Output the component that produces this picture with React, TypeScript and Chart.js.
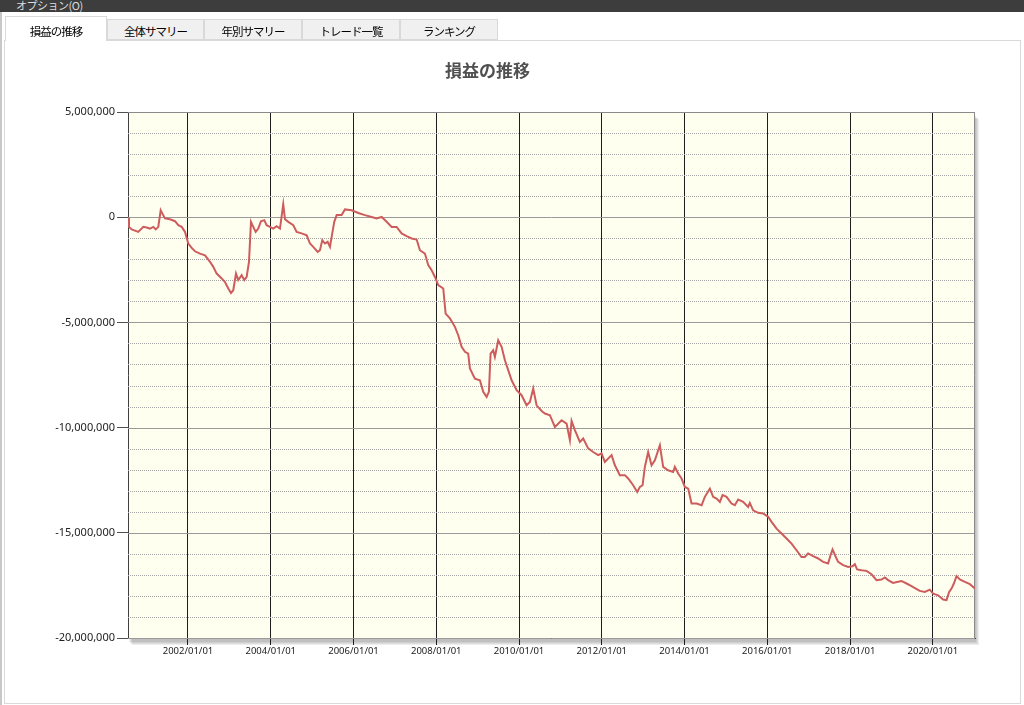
import React, { useEffect, useRef } from 'react';
import { Chart, registerables } from 'chart.js';

Chart.register(...registerables);

// ---- data ----
const chartTitle = '損益の推移';
const menuLabel = 'オプション(O)';
const tabLabels = ['損益の推移', '全体サマリー', '年別サマリー', 'トレード一覧', 'ランキング'];

// decimal years of each sample
const years = [
  2000.550, 2000.574, 2000.640, 2000.799, 2000.920, 2001.002, 2001.082, 2001.162, 2001.220, 2001.282,
  2001.340, 2001.379, 2001.444, 2001.565, 2001.686, 2001.766, 2001.848, 2001.928, 2002.007, 2002.089,
  2002.169, 2002.290, 2002.411, 2002.532, 2002.611, 2002.693, 2002.814, 2002.894, 2002.974, 2003.039,
  2003.094, 2003.160, 2003.215, 2003.297, 2003.360, 2003.418, 2003.474, 2003.522, 2003.578, 2003.636,
  2003.698, 2003.764, 2003.843, 2003.901, 2003.981, 2004.061, 2004.143, 2004.223, 2004.302, 2004.344,
  2004.424, 2004.544, 2004.626, 2004.747, 2004.868, 2004.948, 2005.027, 2005.134, 2005.189, 2005.245,
  2005.310, 2005.375, 2005.431, 2005.486, 2005.535, 2005.593, 2005.713, 2005.793, 2005.955, 2006.115,
  2006.276, 2006.438, 2006.559, 2006.680, 2006.801, 2006.922, 2007.042, 2007.163, 2007.284, 2007.405,
  2007.526, 2007.605, 2007.726, 2007.806, 2007.888, 2007.968, 2008.048, 2008.169, 2008.226, 2008.330,
  2008.451, 2008.531, 2008.613, 2008.693, 2008.772, 2008.813, 2008.934, 2009.055, 2009.135, 2009.217,
  2009.272, 2009.313, 2009.376, 2009.417, 2009.497, 2009.579, 2009.659, 2009.739, 2009.821, 2009.942,
  2010.062, 2010.183, 2010.263, 2010.343, 2010.425, 2010.546, 2010.626, 2010.746, 2010.867, 2011.029,
  2011.150, 2011.229, 2011.270, 2011.350, 2011.471, 2011.551, 2011.672, 2011.792, 2011.913, 2011.995,
  2012.075, 2012.237, 2012.317, 2012.437, 2012.558, 2012.638, 2012.759, 2012.856, 2012.921, 2012.986,
  2013.041, 2013.121, 2013.203, 2013.283, 2013.404, 2013.484, 2013.604, 2013.725, 2013.766, 2013.846,
  2013.928, 2014.008, 2014.088, 2014.170, 2014.291, 2014.412, 2014.491, 2014.612, 2014.692, 2014.774,
  2014.854, 2014.919, 2015.016, 2015.136, 2015.216, 2015.296, 2015.416, 2015.537, 2015.578, 2015.658,
  2015.779, 2015.900, 2016.021, 2016.103, 2016.224, 2016.344, 2016.465, 2016.586, 2016.707, 2016.827,
  2016.907, 2016.987, 2017.108, 2017.229, 2017.350, 2017.470, 2017.528, 2017.577, 2017.656, 2017.712,
  2017.833, 2017.954, 2018.060, 2018.116, 2018.171, 2018.277, 2018.398, 2018.519, 2018.640, 2018.761,
  2018.841, 2018.920, 2019.041, 2019.162, 2019.244, 2019.365, 2019.486, 2019.590, 2019.686, 2019.807,
  2019.928, 2020.008, 2020.129, 2020.250, 2020.332, 2020.395, 2020.453, 2020.509, 2020.574, 2020.654,
  2020.775, 2020.896, 2021.017,
];

// cumulative profit (yen)
const profit = [
  -30000, -460000, -580000, -700000, -460000, -490000, -540000, -460000, -580000, -460000,
  330000, 180000, -60000, -100000, -190000, -380000, -460000, -700000, -1250000, -1460000,
  -1620000, -1730000, -1810000, -2120000, -2360000, -2680000, -2910000, -3080000, -3390000, -3600000,
  -3470000, -2680000, -2990000, -2760000, -2990000, -2840000, -2120000, -220000, -460000, -700000,
  -540000, -190000, -140000, -380000, -460000, -540000, -430000, -540000, 620000, -100000,
  -220000, -380000, -700000, -770000, -860000, -1250000, -1410000, -1650000, -1570000, -1090000,
  -1250000, -1170000, -1410000, -770000, -220000, 100000, 100000, 370000, 330000, 200000,
  100000, 10000, -60000, 10000, -220000, -460000, -460000, -770000, -900000, -1010000,
  -1060000, -1570000, -1730000, -2280000, -2520000, -2840000, -3230000, -3390000, -4580000, -4810000,
  -5210000, -5610000, -6160000, -6400000, -6480000, -7190000, -7670000, -7750000, -8300000, -8540000,
  -8300000, -6480000, -6320000, -6640000, -5850000, -6160000, -6800000, -7270000, -7750000, -8220000,
  -8460000, -8940000, -8780000, -8140000, -8940000, -9210000, -9330000, -9410000, -9970000, -9650000,
  -9810000, -10600000, -9680000, -10120000, -10680000, -10520000, -10990000, -11160000, -11310000, -11230000,
  -11630000, -11310000, -11790000, -12260000, -12260000, -12420000, -12740000, -13060000, -12820000, -12740000,
  -11870000, -11160000, -11790000, -11550000, -10840000, -11870000, -12030000, -12110000, -11870000, -12180000,
  -12420000, -12820000, -12900000, -13610000, -13610000, -13690000, -13290000, -12900000, -13290000, -13370000,
  -13530000, -13210000, -13290000, -13610000, -13690000, -13420000, -13530000, -13770000, -13580000, -13930000,
  -14050000, -14080000, -14240000, -14480000, -14800000, -15030000, -15270000, -15510000, -15830000, -16150000,
  -16150000, -15980000, -16110000, -16220000, -16380000, -16460000, -16070000, -15790000, -16150000, -16380000,
  -16540000, -16620000, -16590000, -16490000, -16740000, -16780000, -16810000, -16970000, -17250000, -17220000,
  -17120000, -17250000, -17380000, -17330000, -17290000, -17410000, -17540000, -17650000, -17760000, -17810000,
  -17700000, -17890000, -17970000, -18170000, -18200000, -17810000, -17650000, -17410000, -17060000, -17220000,
  -17330000, -17440000, -17650000,
];

const xTickYears = [2002, 2004, 2006, 2008, 2010, 2012, 2014, 2016, 2018, 2020];
const xMin = 2000.55;
const xMax = 2021.02;
const yMin = -20000000;
const yMax = 5000000;
const yMinorStep = 1000000;
const yMajorStep = 5000000;

const isMajor = (v: number) => Math.abs(Math.round(v)) % yMajorStep === 0;

const plotPlugin = {
  id: 'plotDecor',
  beforeDraw(chart: any) {
    const { ctx, chartArea: a } = chart;
    const w = a.right - a.left;
    const h = a.bottom - a.top;
    ctx.save();
    for (let i = 1; i <= 4; i++) {
      ctx.fillStyle = 'rgba(0,0,0,0.07)';
      ctx.fillRect(a.left + i, a.top + 3 + i, w, h);
    }
    ctx.fillStyle = '#fffff0';
    ctx.fillRect(a.left, a.top, w, h);
    ctx.restore();
  },
  beforeDatasetsDraw(chart: any) {
    const { ctx, chartArea: a } = chart;
    const ys = chart.scales.y;
    ctx.save();
    ctx.lineWidth = 1;
    for (let v = yMin; v <= yMax; v += yMinorStep) {
      const py = Math.round(ys.getPixelForValue(v)) + 0.5;
      ctx.beginPath();
      if (isMajor(v)) {
        ctx.setLineDash([]);
        ctx.strokeStyle = '#9a9a9a';
      } else {
        ctx.setLineDash([1, 1]);
        ctx.strokeStyle = '#a4a4a4';
      }
      ctx.moveTo(a.left, py);
      ctx.lineTo(a.right, py);
      ctx.stroke();
    }
    ctx.setLineDash([]);
    ctx.strokeStyle = '#8a8a8a';
    ctx.beginPath();
    ctx.moveTo(a.left, Math.round(a.top) + 0.5);
    ctx.lineTo(Math.round(a.right) - 0.5, Math.round(a.top) + 0.5);
    ctx.lineTo(Math.round(a.right) - 0.5, a.bottom);
    ctx.stroke();
    ctx.restore();
  },
};

function ProfitChart() {
  const ref = useRef<HTMLCanvasElement | null>(null);
  useEffect(() => {
    if (!ref.current) return;
    const tickFont = { family: "'Noto Sans', 'Noto Sans CJK JP', sans-serif", size: 11 };
    const chart = new Chart(ref.current, {
      type: 'line',
      data: {
        datasets: [
          {
            label: chartTitle,
            data: years.map((x, i) => ({ x, y: profit[i] })),
            borderColor: '#cd5c5c',
            borderWidth: 2,
            pointRadius: 0,
            tension: 0,
            fill: false,
          },
        ],
      },
      options: {
        animation: false,
        responsive: false,
        events: [],
        layout: { padding: { left: 0, right: 49, top: 0, bottom: 0 } },
        plugins: {
          legend: { display: false },
          tooltip: { enabled: false },
          title: {
            display: true,
            text: chartTitle,
            color: '#505050',
            font: { family: "'Noto Sans CJK JP', sans-serif", size: 17, weight: 'bold' },
            padding: { top: 60.3, bottom: 31.3 },
          },
        },
        scales: {
          x: {
            type: 'linear',
            min: xMin,
            max: xMax,
            afterBuildTicks: (s: any) => {
              s.ticks = xTickYears.map((v) => ({ value: v }));
            },
            afterFit: (s: any) => {
              s.height = 67;
            },
            ticks: {
              autoSkip: false,
              maxRotation: 0,
              padding: 1,
              color: '#222',
              font: { ...tickFont, size: 9.5 },
              callback: (v: any) => `${v}/01/01`,
            },
            grid: { color: '#1e1e1e', lineWidth: 1, tickLength: 7 },
            border: { color: '#404040', width: 1 },
          },
          y: {
            min: yMin,
            max: yMax,
            afterFit: (s: any) => {
              s.width = 128;
            },
            ticks: {
              stepSize: yMinorStep,
              autoSkip: false,
              padding: 2,
              color: '#222',
              font: tickFont,
              callback: (v: any) => (isMajor(Number(v)) ? Number(v).toLocaleString('en-US') : ''),
            },
            grid: {
              drawOnChartArea: false,
              drawTicks: true,
              tickLength: 11,
              tickColor: (c: any) => (c.tick && isMajor(c.tick.value) ? '#505050' : 'rgba(0,0,0,0)'),
            },
            border: { color: '#404040', width: 1 },
          },
        },
      },
      plugins: [plotPlugin],
    } as any);
    return () => chart.destroy();
  }, []);
  return (
    <canvas
      ref={ref}
      width={1024}
      height={705}
      style={{ position: 'absolute', left: 0, top: 0, width: 1024, height: 705 }}
    />
  );
}

export default function App() {
  const tabLefts = [5, 107, 204, 302, 400];
  const tabWidths = [102, 97, 98, 98, 98];
  return (
    <div
      style={{
        position: 'fixed',
        left: 0,
        top: 0,
        width: 1024,
        height: 705,
        background: '#ffffff',
        overflow: 'hidden',
        fontFamily: "'Noto Sans CJK JP', sans-serif",
      }}
    >
      <div style={{ position: 'absolute', left: 0, top: 0, width: 1024, height: 12, background: '#3d3d3d' }}>
        <span
          style={{
            position: 'absolute',
            left: 16,
            top: -1,
            fontSize: 11,
            lineHeight: '13px',
            color: '#dcdcdc',
            letterSpacing: '-0.5px',
          }}
        >
          {menuLabel}
        </span>
      </div>
      <div style={{ position: 'absolute', left: 0, top: 12, width: 2, height: 693, background: '#c8c8c8' }} />
      <div
        style={{
          position: 'absolute',
          left: 4,
          top: 40,
          width: 1015,
          height: 662,
          border: '1px solid #d9d9d9',
          background: '#fff',
        }}
      />
      {tabLabels.map((t, i) => {
        const sel = i === 0;
        return (
          <div
            key={t}
            style={{
              position: 'absolute',
              left: tabLefts[i],
              top: sel ? 16 : 19,
              width: tabWidths[i],
              height: sel ? 25 : 21,
              boxSizing: 'border-box',
              background: sel ? '#ffffff' : '#f0f0f0',
              border: '1px solid #d9d9d9',
              borderBottom: sel ? 'none' : '1px solid #d9d9d9',
              fontSize: 11.5,
              letterSpacing: '-1px',
              color: '#000',
              textAlign: 'center',
              lineHeight: sel ? '28px' : '22px',
              zIndex: sel ? 2 : 1,
            }}
          >
            {t}
          </div>
        );
      })}
      <ProfitChart />
    </div>
  );
}
